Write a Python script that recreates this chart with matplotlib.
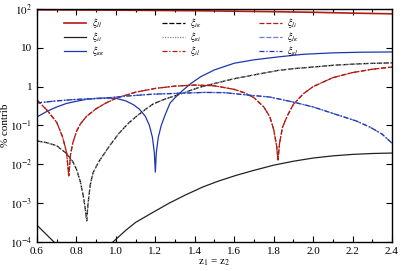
import numpy as np
import matplotlib
matplotlib.use("Agg")
import matplotlib.pyplot as plt
from matplotlib.ticker import FixedLocator, MultipleLocator, NullLocator

plt.rcParams["font.family"] = ["Liberation Serif", "DejaVu Serif"]
plt.rcParams["mathtext.fontset"] = "stix"

# ---- data ----
x_ll = [0.6, 1.0, 1.4, 1.8, 2.0, 2.2, 2.4]
y_ll = [95, 93, 90, 85, 82, 78, 75]

# xi_il / xi_li (same curve)
x_li = [0.6, 0.65, 0.70, 0.73, 0.75, 0.761, 0.77, 0.781, 0.80, 0.82, 0.85, 0.9, 0.95, 1.0, 1.1,
        1.2, 1.3, 1.4, 1.5, 1.6, 1.65, 1.7, 1.75, 1.78, 1.80, 1.815, 1.822, 1.83, 1.845, 1.87,
        1.9, 1.95, 2.0, 2.1, 2.2, 2.3, 2.4]
y_li = [0.45, 0.25, 0.12, 0.05, 0.02, 0.005, 0.018, 0.035, 0.07, 0.11, 0.17, 0.27, 0.38, 0.5, 0.72,
        0.9, 1.03, 1.1, 1.05, 0.85, 0.7, 0.52, 0.3, 0.17, 0.08, 0.03, 0.013, 0.035, 0.09, 0.18,
        0.35, 0.65, 1.0, 1.7, 2.3, 2.8, 3.2]

# xi_ik / xi_ki (same curve)
x_ik = [0.6, 0.65, 0.7, 0.75, 0.78, 0.80, 0.82, 0.835, 0.845, 0.852, 0.858, 0.87, 0.884, 0.91,
        0.935, 0.97, 1.016, 1.06, 1.10, 1.15, 1.19, 1.25, 1.34, 1.42, 1.51, 1.6, 1.7, 1.82, 1.9,
        2.0, 2.12, 2.25, 2.4]
y_ik = [0.04, 0.036, 0.03, 0.019, 0.012, 0.0075, 0.0035, 0.0015, 0.0007, 0.00035, 0.0009, 0.003,
        0.006, 0.011, 0.017, 0.031, 0.063, 0.11, 0.165, 0.26, 0.36, 0.48, 0.68, 0.95, 1.24, 1.6,
        2.0, 2.6, 2.9, 3.2, 3.6, 3.9, 4.1]

# xi_kk
x_kk = [0.6, 0.65, 0.7, 0.75, 0.8, 0.85, 0.9, 0.95, 1.0, 1.05, 1.09, 1.12, 1.15, 1.17, 1.185,
        1.195, 1.2, 1.205, 1.215, 1.23, 1.25, 1.275, 1.3, 1.34, 1.38, 1.43, 1.5, 1.6, 1.7, 1.82,
        1.95, 2.1, 2.25, 2.4]
y_kk = [0.166, 0.23, 0.30, 0.37, 0.42, 0.47, 0.5, 0.51, 0.5, 0.43, 0.34, 0.26, 0.17, 0.1, 0.05,
        0.02, 0.0063, 0.02, 0.05, 0.1, 0.19, 0.38, 0.52, 0.81, 1.2, 1.8, 2.7, 4.0, 4.9, 5.8,
        6.8, 7.4, 7.7, 7.8]

# xi_lk / xi_kl (same curve)
x_lk = [0.6, 0.7, 0.8, 0.935, 1.05, 1.19, 1.34, 1.45, 1.55, 1.68, 1.78, 1.9, 2.0, 2.12, 2.22,
        2.29, 2.35, 2.4]
y_lk = [0.38, 0.43, 0.47, 0.5, 0.57, 0.64, 0.68, 0.71, 0.7, 0.6, 0.54, 0.4, 0.3, 0.19, 0.13,
        0.09, 0.06, 0.035]

# xi_ii
x_ii = [0.6, 0.686, 0.75, 0.85, 0.95, 0.985, 1.05, 1.10, 1.18, 1.27, 1.35, 1.44, 1.52, 1.61,
        1.7, 1.80, 1.9, 2.0, 2.1, 2.2, 2.3, 2.4]
y_ii = [2.7e-4, 1e-4, 2e-5, 1e-6, 3e-5, 1e-4, 2e-4, 3.2e-4, 5.5e-4, 1e-3, 1.6e-3, 2.6e-3, 3.7e-3,
        5.2e-3, 7e-3, 9.5e-3, 0.012, 0.0145, 0.0165, 0.018, 0.019, 0.0195]

red = "#b01c14"
blue = "#1c36b0"
lblue = "#6a7fd0"

fig = plt.figure(figsize=(4.07, 2.71), dpi=100)
ax = fig.add_axes([0.091, 0.107, 0.872, 0.860])

lw = 0.9
ax.plot(x_ll, y_ll, color=red, lw=1.2, label=r"$\xi_{ll}$")
ax.plot(x_ii, y_ii, color="#222222", lw=lw, label=r"$\xi_{ii}$")
ax.plot(x_kk, y_kk, color=blue, lw=lw, label=r"$\xi_{\kappa\kappa}$")
ax.plot(x_ik, y_ik, color="black", lw=lw, ls=(0, (4, 1.5)), label=r"$\xi_{i\kappa}$")
ax.plot(x_ik, y_ik, color="#888888", lw=lw, ls=(0, (1, 1)), label=r"$\xi_{\kappa i}$")
ax.plot(x_li, y_li, color=red, lw=lw, ls=(0, (4, 1.5, 1, 1.5)), label=r"$\xi_{il}$")
ax.plot(x_li, y_li, color=red, lw=lw, ls=(0, (4, 1.5)), label=r"$\xi_{li}$")
ax.plot(x_lk, y_lk, color=lblue, lw=lw, ls=(0, (4, 1.5)), label=r"$\xi_{l\kappa}$")
ax.plot(x_lk, y_lk, color=blue, lw=lw, ls=(0, (4, 1.5, 1, 1.5)), label=r"$\xi_{\kappa l}$")

ax.set_yscale("log")
ax.set_xlim(0.6, 2.4)
ax.set_ylim(1e-4, 1e2)

yt = [1e-4, 1e-3, 1e-2, 1e-1, 1, 10, 1e2]
ylab = [r"$10^{-4}$", r"$10^{-3}$", r"$10^{-2}$", r"$10^{-1}$", "1", "10", r"$10^{2}$"]
ax.yaxis.set_major_locator(FixedLocator(yt))
ax.set_yticklabels(ylab)
ax.yaxis.set_minor_locator(NullLocator())
ax.xaxis.set_major_locator(MultipleLocator(0.2))
ax.xaxis.set_minor_locator(MultipleLocator(0.1))
ax.set_xticklabels([f"{v:.1f}" for v in ax.get_xticks()])

ax.tick_params(which="both", direction="in", top=True, right=True, labelsize=8, width=0.8)
ax.tick_params(which="major", length=4)
ax.tick_params(which="minor", length=2.5)
for s in ax.spines.values():
    s.set_linewidth(1.0)

ax.set_xlabel(r"z$_1$ = z$_2$", fontsize=8, labelpad=1)
ax.set_ylabel("% contrib", fontsize=8)
ax.yaxis.set_label_coords(-0.075, 0.5)

ax.legend(ncol=3, loc="upper left", bbox_to_anchor=(0.065, 0.985), frameon=False, fontsize=7,
          handlelength=2.3, columnspacing=5.9, labelspacing=0.0, handletextpad=0.6,
          borderaxespad=0, handleheight=0.4)

fig.savefig("out.png", dpi=100)
